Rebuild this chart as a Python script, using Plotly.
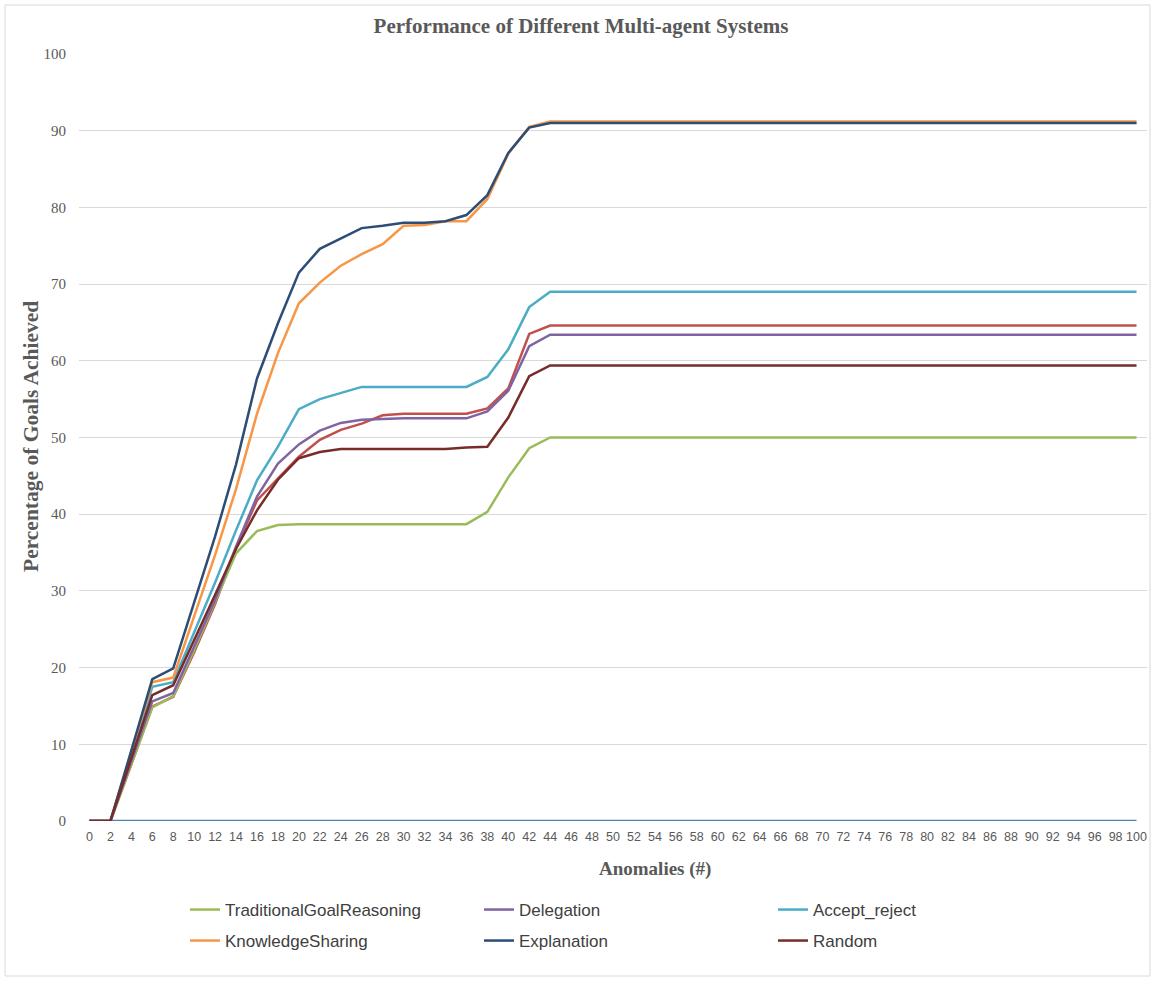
import plotly.graph_objects as go

# ---------------- data ----------------
anomalies = [0, 2, 4, 6, 8, 10, 12, 14, 16, 18, 20, 22, 24, 26, 28, 30, 32, 34, 36, 38, 40,
             42, 44, 46, 48, 50, 52, 54, 56, 58, 60, 62, 64, 66, 68, 70, 72, 74, 76, 78, 80,
             82, 84, 86, 88, 90, 92, 94, 96, 98, 100]

series1 = [0, 0, 0, 0, 0, 0, 0, 0, 0, 0, 0, 0, 0, 0, 0, 0, 0, 0, 0, 0, 0,
           0, 0, 0, 0, 0, 0, 0, 0, 0, 0, 0, 0, 0, 0, 0, 0, 0, 0, 0, 0,
           0, 0, 0, 0, 0, 0, 0, 0, 0, 0]

series2 = [0, 0, 7.4, 14.9, 16.2, 22.0, 28.3, 35.6, 41.8, 44.7, 47.5, 49.7, 51.0, 51.8, 52.9,
           53.1, 53.1, 53.1, 53.1, 53.8, 56.4, 63.5, 64.6, 64.6, 64.6, 64.6, 64.6, 64.6, 64.6,
           64.6, 64.6, 64.6, 64.6, 64.6, 64.6, 64.6, 64.6, 64.6, 64.6, 64.6, 64.6, 64.6, 64.6,
           64.6, 64.6, 64.6, 64.6, 64.6, 64.6, 64.6, 64.6]

traditional = [0, 0, 7.4, 14.8, 16.3, 22.3, 28.6, 34.9, 37.8, 38.6, 38.7, 38.7, 38.7, 38.7, 38.7,
               38.7, 38.7, 38.7, 38.7, 40.3, 44.8, 48.6, 50.0, 50.0, 50.0, 50.0, 50.0, 50.0, 50.0,
               50.0, 50.0, 50.0, 50.0, 50.0, 50.0, 50.0, 50.0, 50.0, 50.0, 50.0, 50.0, 50.0, 50.0,
               50.0, 50.0, 50.0, 50.0, 50.0, 50.0, 50.0, 50.0]

delegation = [0, 0, 7.8, 15.6, 16.7, 22.8, 28.8, 35.8, 42.3, 46.6, 49.1, 50.9, 51.9, 52.3, 52.4,
              52.5, 52.5, 52.5, 52.5, 53.4, 56.1, 61.9, 63.4, 63.4, 63.4, 63.4, 63.4, 63.4, 63.4,
              63.4, 63.4, 63.4, 63.4, 63.4, 63.4, 63.4, 63.4, 63.4, 63.4, 63.4, 63.4, 63.4, 63.4,
              63.4, 63.4, 63.4, 63.4, 63.4, 63.4, 63.4, 63.4]

accept_reject = [0, 0, 8.7, 17.5, 18.1, 24.6, 31.1, 37.9, 44.4, 48.8, 53.7, 55.0, 55.8, 56.6, 56.6,
                 56.6, 56.6, 56.6, 56.6, 57.9, 61.5, 67.0, 69.0, 69.0, 69.0, 69.0, 69.0, 69.0, 69.0,
                 69.0, 69.0, 69.0, 69.0, 69.0, 69.0, 69.0, 69.0, 69.0, 69.0, 69.0, 69.0, 69.0, 69.0,
                 69.0, 69.0, 69.0, 69.0, 69.0, 69.0, 69.0, 69.0]

knowledge = [0, 0, 9.0, 18.1, 18.7, 26.8, 34.7, 43.3, 53.1, 61.0, 67.5, 70.2, 72.4, 73.9, 75.2,
             77.6, 77.7, 78.2, 78.2, 81.1, 87.0, 90.5, 91.2, 91.2, 91.2, 91.2, 91.2, 91.2, 91.2,
             91.2, 91.2, 91.2, 91.2, 91.2, 91.2, 91.2, 91.2, 91.2, 91.2, 91.2, 91.2, 91.2, 91.2,
             91.2, 91.2, 91.2, 91.2, 91.2, 91.2, 91.2, 91.2]

explanation = [0, 0, 9.2, 18.5, 19.9, 28.4, 37.1, 46.5, 57.7, 64.9, 71.5, 74.6, 76.0, 77.3, 77.6,
               78.0, 78.0, 78.2, 79.0, 81.6, 87.1, 90.4, 91.0, 91.0, 91.0, 91.0, 91.0, 91.0, 91.0,
               91.0, 91.0, 91.0, 91.0, 91.0, 91.0, 91.0, 91.0, 91.0, 91.0, 91.0, 91.0, 91.0, 91.0,
               91.0, 91.0, 91.0, 91.0, 91.0, 91.0, 91.0, 91.0]

random_ = [0, 0, 8.2, 16.4, 17.7, 23.5, 29.5, 35.5, 40.5, 44.5, 47.3, 48.1, 48.5, 48.5, 48.5,
           48.5, 48.5, 48.5, 48.7, 48.8, 52.6, 58.0, 59.4, 59.4, 59.4, 59.4, 59.4, 59.4, 59.4,
           59.4, 59.4, 59.4, 59.4, 59.4, 59.4, 59.4, 59.4, 59.4, 59.4, 59.4, 59.4, 59.4, 59.4,
           59.4, 59.4, 59.4, 59.4, 59.4, 59.4, 59.4, 59.4]

y_ticks = [0, 10, 20, 30, 40, 50, 60, 70, 80, 90, 100]

# ---------------- styling ----------------
SERIF = "Liberation Serif, Times New Roman, serif"
SANS = "Liberation Sans, Arial, sans-serif"
GRAY = "#595959"
GRID = "#D9D9D9"

W, H = 1155, 981
L, R, T, B = 79, 8, 54, 160
PW, PH = W - L - R, H - T - B


def px_x(p):
    return (p - L) / PW


def px_y(p):
    return (H - B - p) / PH


series = [
    ("Series1", series1, "#4F81BD", None),
    ("Series2", series2, "#C0504D", None),
    ("TraditionalGoalReasoning", traditional, "#9BBB59", "legend"),
    ("Delegation", delegation, "#8064A2", "legend"),
    ("Accept_reject", accept_reject, "#4BACC6", "legend"),
    ("KnowledgeSharing", knowledge, "#F79646", "legend2"),
    ("Explanation", explanation, "#2C4D75", "legend2"),
    ("Random", random_, "#772C2A", "legend2"),
]

fig = go.Figure()
for name, vals, color, leg in series:
    fig.add_trace(go.Scatter(
        x=anomalies, y=vals, name=name, mode="lines",
        line=dict(color=color, width=2.5),
        showlegend=leg is not None,
        legend=leg if leg else "legend",
    ))

legend_common = dict(
    orientation="h", xanchor="left", yanchor="top",
    font=dict(family=SANS, size=17, color="#404040"),
    entrywidth=249, entrywidthmode="pixels",
    bgcolor="rgba(0,0,0,0)", borderwidth=0,
    itemclick=False, itemdoubleclick=False,
)

fig.update_layout(
    width=W, height=H,
    margin=dict(l=L, r=R, t=T, b=B),
    paper_bgcolor="white", plot_bgcolor="white",
    title=dict(
        text="<b>Performance of Different Multi-agent Systems</b>",
        font=dict(family=SERIF, size=21, color=GRAY),
        xref="container", yref="container",
        x=581 / W, y=1 - 26 / H, xanchor="center", yanchor="middle",
    ),
    xaxis=dict(
        range=[-1, 101],
        tickmode="array", tickvals=anomalies, ticktext=[str(a) for a in anomalies],
        tickangle=0,
        tickfont=dict(family=SANS, size=12.5, color=GRAY),
        showgrid=False, zeroline=False,
        showline=False, ticks="", ticklabelstandoff=6,
    ),
    yaxis=dict(
        range=[0, 100],
        tickmode="array", tickvals=y_ticks,
        tickfont=dict(family=SERIF, size=15, color=GRAY),
        showgrid=True, gridcolor=GRID, gridwidth=1,
        zeroline=False, showline=False, ticks="", ticklabelstandoff=12,
    ),
    legend=dict(x=px_x(185), y=px_y(892), **legend_common),
    legend2=dict(x=px_x(185), y=px_y(923), **legend_common),
    annotations=[
        dict(text="<b>Percentage of Goals Achieved</b>", textangle=-90,
             xref="paper", yref="paper", x=px_x(31), y=px_y(437),
             xanchor="center", yanchor="middle", showarrow=False,
             font=dict(family=SERIF, size=21.5, color=GRAY)),
        dict(text="<b>Anomalies (#)</b>",
             xref="paper", yref="paper", x=px_x(655), y=px_y(869),
             xanchor="center", yanchor="middle", showarrow=False,
             font=dict(family=SERIF, size=19, color=GRAY)),
    ],
    shapes=[
        dict(type="rect", xref="paper", yref="paper",
             x0=px_x(5), x1=px_x(1150), y0=px_y(976), y1=px_y(5),
             line=dict(color=GRID, width=1), fillcolor="rgba(0,0,0,0)", layer="below"),
    ],
)

fig.write_html("out.html", config={"displayModeBar": False},
               post_script="document.body.style.margin='0px';")
